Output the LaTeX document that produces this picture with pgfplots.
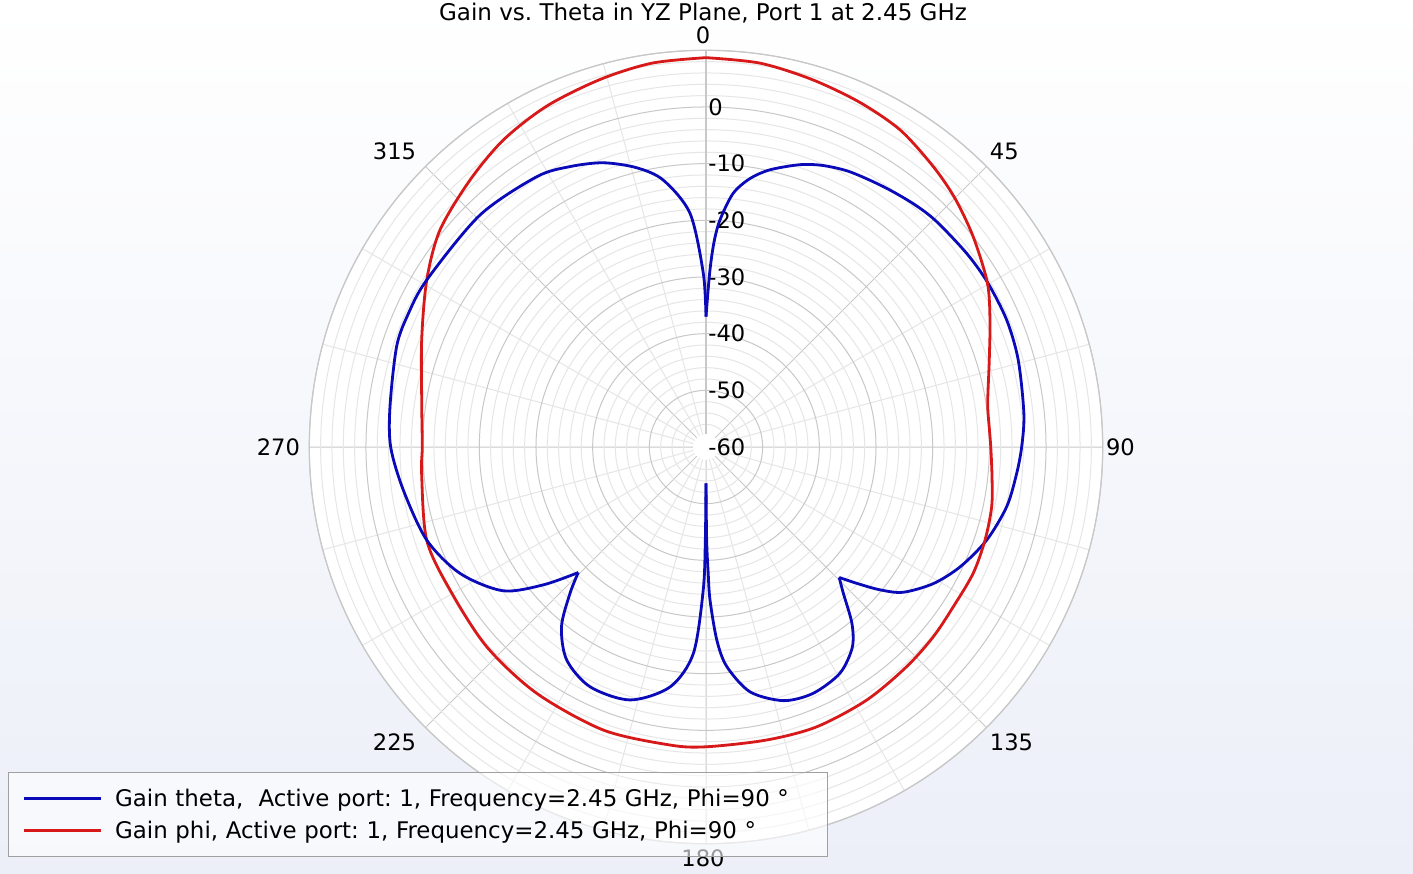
\documentclass[border=0pt]{standalone}
\usepackage{pgfplots}
\pgfplotsset{compat=1.18}
\usepgfplotslibrary{polar}
\usepackage{pgfplotstable}
\usepackage{fontspec}
\setmainfont{DejaVu Sans}

\definecolor{gtheta}{RGB}{10,10,185}
\definecolor{gphi}{RGB}{215,25,25}
\definecolor{bgbot}{RGB}{236,239,248}
\definecolor{gridmaj}{RGB}{200,200,200}
\definecolor{gridmin}{RGB}{230,230,230}
\definecolor{legframe}{RGB}{160,160,160}

% theta in degrees (clockwise from top), gain in dB
\pgfplotstableread{
theta dB
0 -37.0
1.2 -29.3
2.2 -24.0
3.5 -19.9
6.1 -15.0
9.3 -12.0
13.0 -9.8
18.4 -7.5
22.6 -6.2
27.6 -5.2
34.3 -4.4
40.4 -3.6
45.5 -3.1
53.4 -2.7
59.7 -2.45
67.1 -2.4
74.4 -2.8
84.0 -3.6
90.0 -4.3
95.0 -5.0
101.2 -5.9
108.3 -7.8
115.2 -10.4
121.0 -13.2
126.4 -16.8
129.4 -20.3
132.1 -24.1
134.4 -27.1
136.8 -24.6
140.4 -19.6
143.9 -16.2
149.4 -13.6
156.5 -12.6
163.0 -13.2
169.8 -16.1
174.6 -21.1
176.8 -25.9
178.5 -33.0
179.0 -37.7
179.6 -43.6
180.0 -53.6
180.4 -43.6
181.1 -34.8
183.5 -23.5
188.5 -17.2
196.7 -13.4
205.8 -13.0
213.2 -15.1
218.8 -19.3
222.9 -24.75
225.5 -28.4
229.7 -22.4
234.7 -16.1
242.8 -11.2
251.6 -8.05
261.9 -6.05
270.0 -4.36
277.3 -3.78
288.0 -2.6
294.0 -2.45
300.9 -2.58
315.7 -2.85
327.9 -3.72
334.1 -5.0
340.1 -6.66
346.0 -9.2
350.9 -12.3
356.1 -18.7
359.1 -29.3
360.0 -37.0
}\gaintheta

\pgfplotstableread{
theta dB
0 8.7
8 8.4
16 7.5
24 6.6
31.5 5.6
39 3.7
45 2.1
51.8 0.0
59.7 -2.5
65.9 -5.1
72.9 -7.7
81.2 -9.7
86 -9.9
90 -9.75
96 -9.25
101.8 -8.5
108.4 -8.1
115.3 -7.85
122.9 -8.05
129.9 -7.75
137.6 -7.5
147.6 -7.1
158.4 -6.9
168.3 -7.2
180 -7.1
186.9 -7.03
199.9 -6.87
214.5 -7.26
227.7 -7.66
240.8 -8.26
251.6 -8.05
264.7 -9.6
270 -9.94
278.1 -9.34
290.6 -6.4
300.9 -2.58
309.2 0.58
318.5 2.87
326.6 4.92
335 6.4
344 7.5
352 8.4
360 8.7
}\gainphi

\tikzset{anglelab/.style={font=\fontsize{11.3}{13.5}\selectfont, inner sep=3pt, xshift=-1.5pt}}

\begin{document}
\frenchspacing
\begin{tikzpicture}
\shade[top color=white, bottom color=bgbot] (0,0) rectangle (706.5pt,436.5pt);
\begin{polaraxis}[
  at={(353pt,213pt)}, anchor=center,
  width=396.7pt, height=396.7pt, scale only axis,
  clip=false,
  xmin=90, xmax=450, ymin=0, ymax=70,
  xtick={90,135,...,405},
  xticklabel={\mbox{}},
  minor x tick num=2,
  ytick={0,10,...,70},
  yticklabels={{},-50,-40,-30,-20,-10,0,{}},
  minor y tick num=4,
  grid=both,
  major grid style={gridmaj, line width=0.5pt},
  minor grid style={gridmin, line width=0.5pt},
  axis line style={gridmaj, line width=0.6pt},
  tick style={draw=none},
  axis background/.style={fill=white},
  ticklabel style={font=\fontsize{11.3}{13.5}\selectfont},
  yticklabel style={anchor=west, inner sep=1pt},
  legend cell align=left,
  legend image code/.code={\draw[#1, line width=1.4pt] (0pt,0pt) -- (38.5pt,0pt);},
  legend style={
    at={(-0.3798,-0.0168)}, anchor=south west,
    draw=legframe, fill=white, fill opacity=0.6, text opacity=1,
    font=\fontsize{11.45}{13}\selectfont,
    inner xsep=7pt, inner ysep=8.5pt, row sep=7pt, column sep=6.5pt,
    nodes={inner sep=0pt, text height=8.5pt, text depth=0.5pt, text width=349pt, align=left},
  },
]
\fill[white] (axis cs:0,0) circle[radius=6.5pt];
\node[anchor=west, inner sep=1pt, font=\fontsize{11.3}{13.5}\selectfont] at (axis cs:90,0) {-60};
% angle labels (compass angle, clockwise from top)
\node[anglelab, anchor=south] at (axis cs:90,70) {0};
\node[anglelab, anchor=south west] at (axis cs:45,70) {45};
\node[anglelab, anchor=west] at (axis cs:0,70) {90};
\node[anglelab, anchor=north west] at (axis cs:-45,70) {135};
\node[anglelab, anchor=north] at (axis cs:-90,70) {180};
\node[anglelab, anchor=north east] at (axis cs:-135,70) {225};
\node[anglelab, anchor=east] at (axis cs:180,70) {270};
\node[anglelab, anchor=south east] at (axis cs:135,70) {315};
\addplot[gtheta, line width=1.4pt, smooth, restrict x to domain=315.5:450]
  table[x expr=450-\thisrow{theta}, y expr=\thisrow{dB}+60] {\gaintheta};
\addlegendentry{Gain theta, \ Active port: 1, Frequency=2.45 GHz, Phi=90 °}
\addplot[gphi, line width=1.4pt, smooth]
  table[x expr=450-\thisrow{theta}, y expr=\thisrow{dB}+60] {\gainphi};
\addlegendentry{Gain phi, Active port: 1, Frequency=2.45 GHz, Phi=90 °}
\addplot[gtheta, line width=1.4pt, smooth, restrict x to domain=269.9:315.7, forget plot]
  table[x expr=450-\thisrow{theta}, y expr=\thisrow{dB}+60] {\gaintheta};
\addplot[gtheta, line width=1.4pt, smooth, restrict x to domain=224.4:270.1, forget plot]
  table[x expr=450-\thisrow{theta}, y expr=\thisrow{dB}+60] {\gaintheta};
\addplot[gtheta, line width=1.4pt, smooth, restrict x to domain=89.9:224.6, forget plot]
  table[x expr=450-\thisrow{theta}, y expr=\thisrow{dB}+60] {\gaintheta};
\end{polaraxis}
\node[anchor=base, font=\fontsize{11.5}{14}\selectfont] at (351.5pt,426pt)
  {Gain vs. Theta in YZ Plane, Port 1 at 2.45 GHz};
\pgfresetboundingbox
\path (0,0) rectangle (706.5pt,436.5pt);
\end{tikzpicture}
\end{document}
